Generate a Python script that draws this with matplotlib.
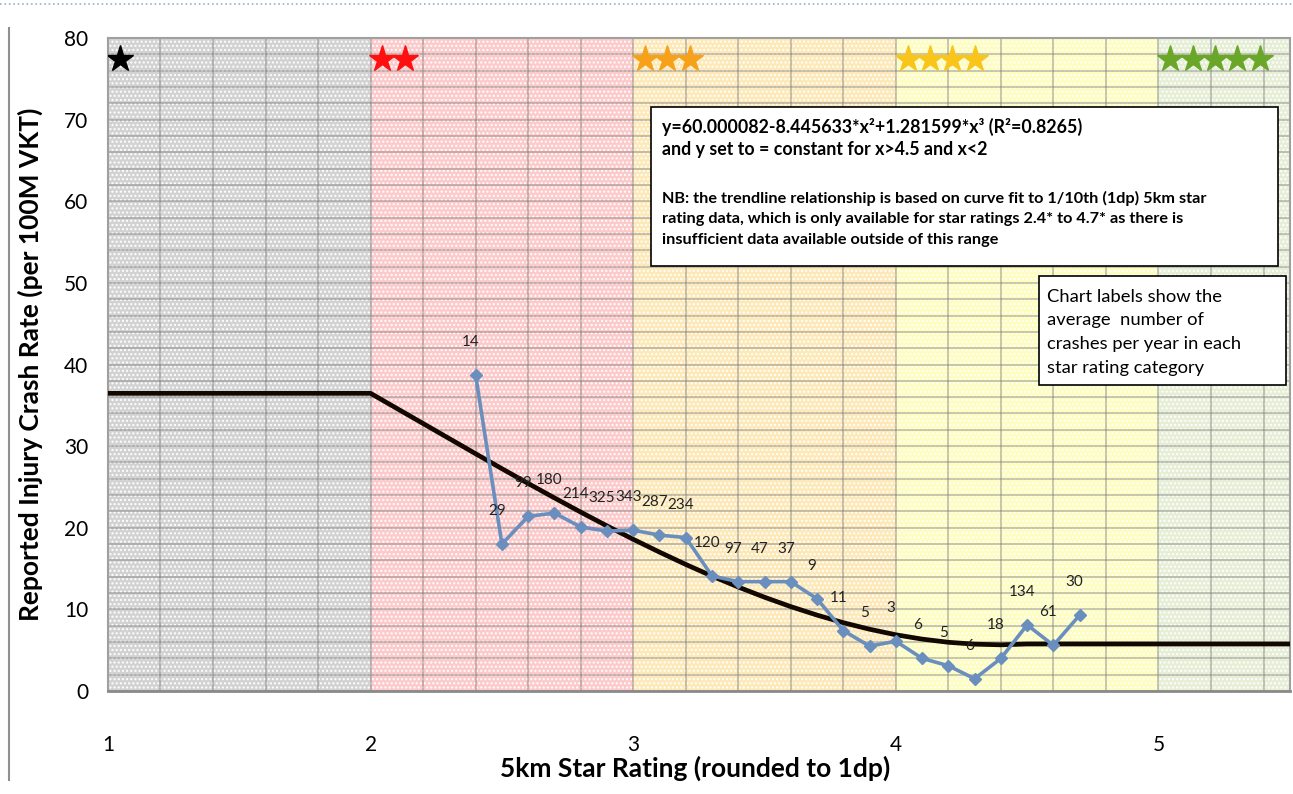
import numpy as np
import matplotlib.pyplot as plt
from matplotlib.patches import Rectangle
from matplotlib.lines import Line2D

plt.rcParams['font.family'] = ['Lato', 'DejaVu Sans']

# star rating (1dp) vs reported injury crash rate
star_rating = [2.4, 2.5, 2.6, 2.7, 2.8, 2.9, 3.0, 3.1, 3.2, 3.3, 3.4, 3.5,
               3.6, 3.7, 3.8, 3.9, 4.0, 4.1, 4.2, 4.3, 4.4, 4.5, 4.6, 4.7]
crash_rate = [38.7, 18.0, 21.4, 21.8, 20.1, 19.6, 19.7, 19.1, 18.8, 14.1, 13.4, 13.4,
              13.4, 11.3, 7.4, 5.5, 6.1, 4.0, 3.1, 1.5, 4.0, 8.1, 5.6, 9.3]
crashes_per_year = [14, 29, 99, 180, 214, 325, 343, 287, 234, 120, 97, 47,
                    37, 9, 11, 5, 3, 6, 5, 6, 18, 134, 61, 30]

# trendline (flat for x<2 and x>4.5)
trend_x = [1.0, 2.0, 2.1, 2.2, 2.3, 2.4, 2.5, 2.6, 2.7, 2.8, 2.9, 3.0, 3.1, 3.2,
           3.3, 3.4, 3.5, 3.6, 3.7, 3.8, 3.9, 4.0, 4.1, 4.2, 4.3, 4.4, 4.5, 5.5]
trend_y = [36.47, 36.47, 34.62, 32.77, 30.92, 29.07, 27.24, 25.43, 23.66, 21.92, 20.23,
           18.59, 17.02, 15.51, 14.08, 12.74, 11.49, 10.34, 9.30, 8.37, 7.57, 6.89,
           6.36, 5.97, 5.74, 5.66, 5.76, 5.76]

# star bands
band_edges = [1, 2, 3, 4, 5, 5.5]
band_colors = ['#d2d2d2', '#fccaca', '#fde9b8', '#fdfdc0', '#e6efd6']
star_colors = ['black', '#ff1010', '#f7a11a', '#f9c51a', '#6aa628']

fig = plt.figure(figsize=(12.93, 7.94), dpi=100)
ax = fig.add_axes([0.0835, 0.1297, 0.914, 0.8224])

for i in range(len(band_colors)):
    ax.axvspan(band_edges[i], band_edges[i + 1], facecolor=band_colors[i],
               edgecolor='white', hatch='....', lw=0, zorder=0)
    for k in range(i + 1):
        ax.plot(band_edges[i] + 0.045 + k * 0.085, 77.4, marker='*', ms=20,
                color=star_colors[i], mec=star_colors[i], zorder=3)

ax.set_xlim(1, 5.5)
ax.set_ylim(0, 80)
ax.set_xticks(np.arange(1, 5.6, 0.2), minor=True)
ax.set_yticks(np.arange(0, 81, 2), minor=True)
ax.set_xticks([1, 2, 3, 4, 5])
ax.set_yticks(range(0, 81, 10))
ax.grid(True, which='both', color='#7a7a7a', alpha=0.45, lw=1.3, zorder=1)
ax.set_axisbelow(True)
ax.tick_params(which='both', length=0)
ax.tick_params(axis='x', labelsize=15, pad=32)
ax.tick_params(axis='y', labelsize=15, pad=14)
for s in ax.spines.values():
    s.set_color('#a0a0a0')
    s.set_linewidth(1.5)
ax.spines['bottom'].set_color('#8a8a8a')
ax.spines['bottom'].set_linewidth(2)

ax.plot(trend_x, trend_y, color='#120800', lw=3.4, zorder=4)
ax.plot(star_rating, crash_rate, color='#6a8fbf', lw=2.6, marker='D', ms=6.5,
        mfc='#6a8fbf', mec='#6a8fbf', zorder=5)

for x, y, n in zip(star_rating, crash_rate, crashes_per_year):
    ax.annotate(str(n), (x, y), xytext=(-5, 33), textcoords='offset pixels',
                ha='center', va='center', fontsize=11, color='#222222', zorder=6)

ax.set_xlabel('5km Star Rating (rounded to 1dp)', fontsize=19, fontweight='bold')
ax.set_ylabel('Reported Injury Crash Rate (per 100M VKT)', fontsize=19, fontweight='bold')
ax.xaxis.set_label_coords(0.497, -0.099)
ax.yaxis.set_label_coords(-0.055, 0.5)

# equation box
ax.add_patch(Rectangle((3.068, 52.1), 2.388, 19.45, facecolor='white', edgecolor='black',
                       lw=1.2, zorder=7))
eq_lines = ['y=60.000082-8.445633*x²+1.281599*x³ (R²=0.8265)',
            'and y set to = constant for x>4.5 and x<2']
ax.text(3.11, 69.1, eq_lines[0], fontsize=12.8, fontweight='bold', va='center', zorder=8)
ax.text(3.11, 66.3, eq_lines[1], fontsize=12.8, fontweight='bold', va='center', zorder=8)
nb_lines = ['NB: the trendline relationship is based on curve fit to 1/10th (1dp) 5km star',
            'rating data, which is only available for star ratings 2.4* to 4.7* as there is',
            'insufficient data available outside of this range']
for j, line in enumerate(nb_lines):
    ax.text(3.11, 60.4 - j * 2.6, line, fontsize=11.7, fontweight='bold', va='center',
            zorder=8)

# label note box
ax.add_patch(Rectangle((4.545, 37.5), 0.94, 13.3, facecolor='white', edgecolor='black',
                       lw=1.2, zorder=7))
note_lines = ['Chart labels show the', 'average  number of',
              'crashes per year in each', 'star rating category']
for j, line in enumerate(note_lines):
    ax.text(4.575, 48.3 - j * 2.9, line, fontsize=13.2, va='center', zorder=8)

# page decorations
fig.add_artist(Line2D([0, 1], [0.995, 0.995], color='#9ab0c8', lw=1.2, ls=':'))
fig.add_artist(Line2D([0.007, 0.007], [0.018, 0.965], color='#909090', lw=1.5))

fig.savefig('out.png', dpi=100)
